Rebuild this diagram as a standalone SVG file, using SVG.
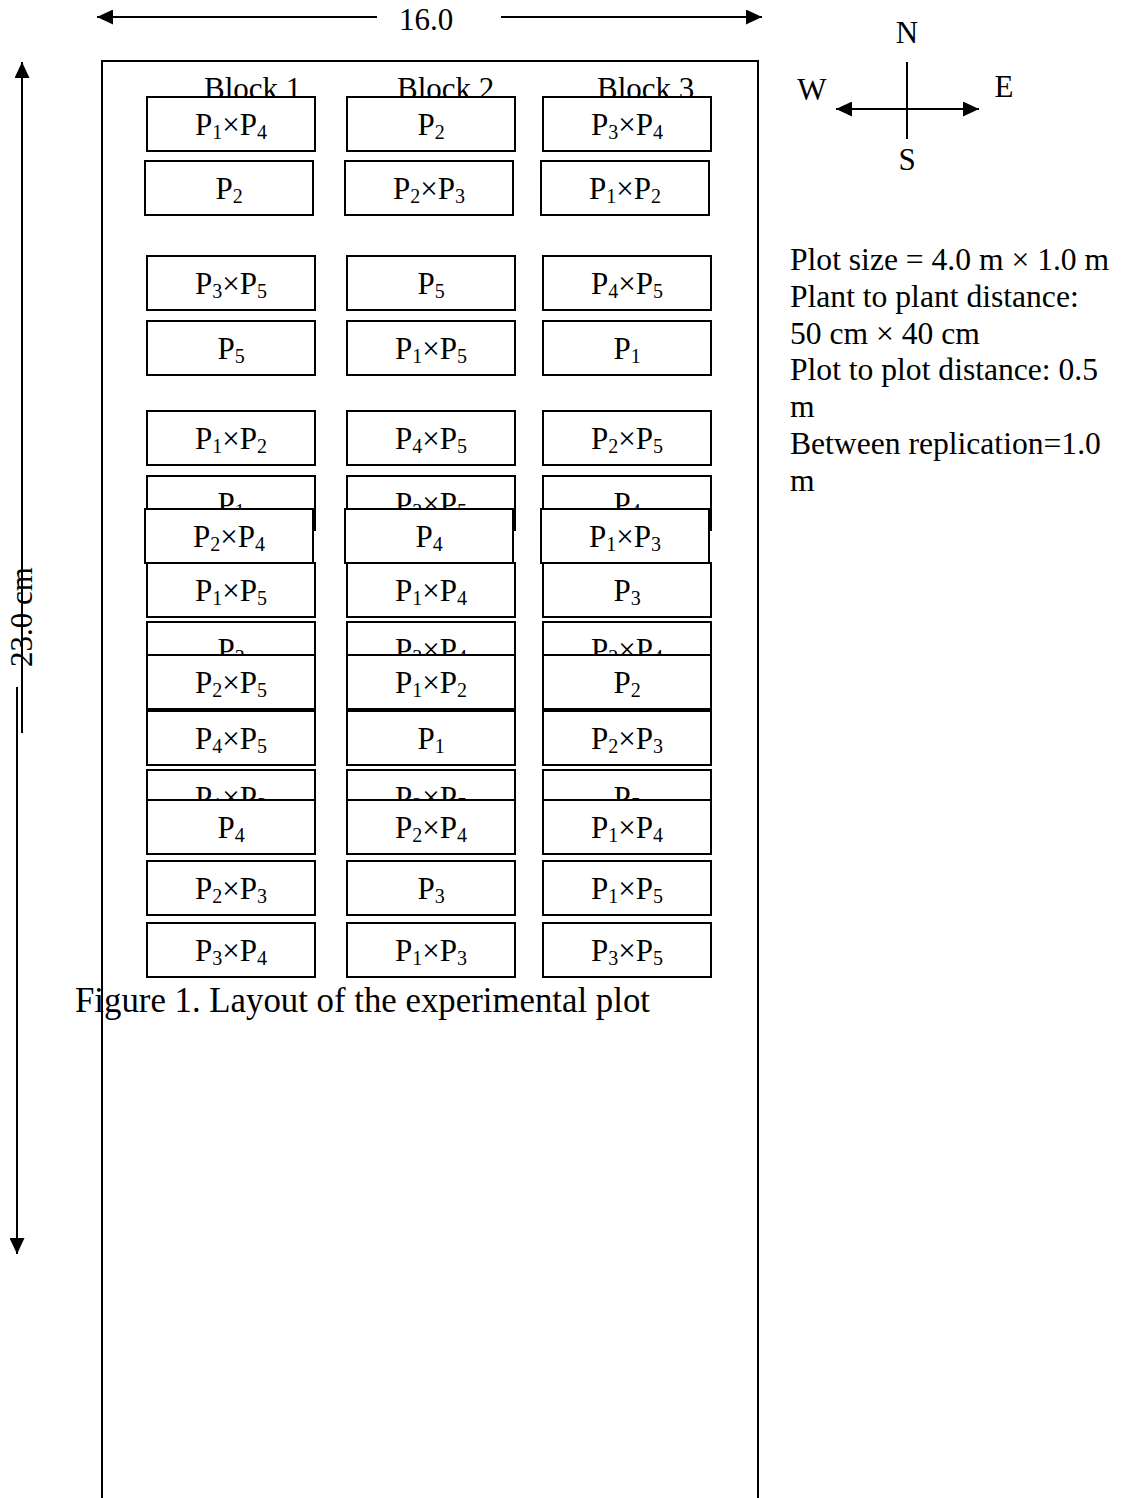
<svg xmlns="http://www.w3.org/2000/svg" width="1123" height="1498" viewBox="0 0 1123 1498">
<style>
text{font-family:"Liberation Serif","Times New Roman",serif;fill:#000}
.t{font-size:31px}
.n{font-size:31.6px}
.lbl{font-size:31px;text-anchor:middle}
.s{font-size:20px}
.box{fill:#fff;stroke:#000;stroke-width:2}
.ln{stroke:#000;stroke-width:2;fill:none}
</style>
<defs>
<marker id="ah" viewBox="0 0 16 15" refX="16" refY="7.5" markerWidth="16" markerHeight="15" markerUnits="userSpaceOnUse" orient="auto">
<path d="M0,0 L16,7.5 L0,15 Z" fill="#000"/>
</marker>
</defs>
<rect width="1123" height="1498" fill="#fff"/>
<g id="frame"><rect x="102" y="61" width="656" height="1460" fill="none" stroke="#000" stroke-width="2"/></g>
<g id="connectors">
<line class="ln" x1="377" y1="17" x2="97" y2="17" marker-end="url(#ah)"/>
<line class="ln" x1="501" y1="17" x2="762" y2="17" marker-end="url(#ah)"/>
<line class="ln" x1="22" y1="733" x2="22" y2="62" marker-end="url(#ah)"/>
<line class="ln" x1="17" y1="687" x2="17" y2="1254" marker-end="url(#ah)"/>
<line class="ln" x1="907" y1="62" x2="907" y2="139"/>
<line class="ln" x1="907" y1="109" x2="836" y2="109" marker-end="url(#ah)"/>
<line class="ln" x1="907" y1="109" x2="979" y2="109" marker-end="url(#ah)"/>
</g>
<g id="dims">
<text class="t" x="426" y="30" text-anchor="middle">16.0</text>
<text class="t" transform="translate(32,667) rotate(-90)">23.0 cm</text>
</g>
<g id="compass">
<text class="t" x="907" y="43" text-anchor="middle">N</text>
<text class="t" x="812" y="100" text-anchor="middle">W</text>
<text class="t" x="1004" y="97" text-anchor="middle">E</text>
<text class="t" x="907" y="170" text-anchor="middle">S</text>
</g>
<g id="blocks">
<text class="t" x="204" y="99">Block 1</text>
<text class="t" x="397" y="99">Block 2</text>
<text class="t" x="597" y="99">Block 3</text>
</g>
<g id="plots">
<g id="r1c1"><rect class="box" x="147" y="97" width="168" height="54"/><text class="lbl" x="231" y="135">P<tspan class="s" dy="4">1</tspan><tspan dy="-4">×P</tspan><tspan class="s" dy="4">4</tspan></text></g>
<g id="r1c2"><rect class="box" x="347" y="97" width="168" height="54"/><text class="lbl" x="431" y="135">P<tspan class="s" dy="4">2</tspan></text></g>
<g id="r1c3"><rect class="box" x="543" y="97" width="168" height="54"/><text class="lbl" x="627" y="135">P<tspan class="s" dy="4">3</tspan><tspan dy="-4">×P</tspan><tspan class="s" dy="4">4</tspan></text></g>

<g id="r2c1"><rect class="box" x="145" y="161" width="168" height="54"/><text class="lbl" x="229" y="199">P<tspan class="s" dy="4">2</tspan></text></g>
<g id="r2c2"><rect class="box" x="345" y="161" width="168" height="54"/><text class="lbl" x="429" y="199">P<tspan class="s" dy="4">2</tspan><tspan dy="-4">×P</tspan><tspan class="s" dy="4">3</tspan></text></g>
<g id="r2c3"><rect class="box" x="541" y="161" width="168" height="54"/><text class="lbl" x="625" y="199">P<tspan class="s" dy="4">1</tspan><tspan dy="-4">×P</tspan><tspan class="s" dy="4">2</tspan></text></g>

<g id="r3c1"><rect class="box" x="147" y="256" width="168" height="54"/><text class="lbl" x="231" y="294">P<tspan class="s" dy="4">3</tspan><tspan dy="-4">×P</tspan><tspan class="s" dy="4">5</tspan></text></g>
<g id="r3c2"><rect class="box" x="347" y="256" width="168" height="54"/><text class="lbl" x="431" y="294">P<tspan class="s" dy="4">5</tspan></text></g>
<g id="r3c3"><rect class="box" x="543" y="256" width="168" height="54"/><text class="lbl" x="627" y="294">P<tspan class="s" dy="4">4</tspan><tspan dy="-4">×P</tspan><tspan class="s" dy="4">5</tspan></text></g>

<g id="r4c1"><rect class="box" x="147" y="321" width="168" height="54"/><text class="lbl" x="231" y="359">P<tspan class="s" dy="4">5</tspan></text></g>
<g id="r4c2"><rect class="box" x="347" y="321" width="168" height="54"/><text class="lbl" x="431" y="359">P<tspan class="s" dy="4">1</tspan><tspan dy="-4">×P</tspan><tspan class="s" dy="4">5</tspan></text></g>
<g id="r4c3"><rect class="box" x="543" y="321" width="168" height="54"/><text class="lbl" x="627" y="359">P<tspan class="s" dy="4">1</tspan></text></g>

<g id="r5c1"><rect class="box" x="147" y="411" width="168" height="54"/><text class="lbl" x="231" y="449">P<tspan class="s" dy="4">1</tspan><tspan dy="-4">×P</tspan><tspan class="s" dy="4">2</tspan></text></g>
<g id="r5c2"><rect class="box" x="347" y="411" width="168" height="54"/><text class="lbl" x="431" y="449">P<tspan class="s" dy="4">4</tspan><tspan dy="-4">×P</tspan><tspan class="s" dy="4">5</tspan></text></g>
<g id="r5c3"><rect class="box" x="543" y="411" width="168" height="54"/><text class="lbl" x="627" y="449">P<tspan class="s" dy="4">2</tspan><tspan dy="-4">×P</tspan><tspan class="s" dy="4">5</tspan></text></g>

<g id="r6c1"><rect class="box" x="147" y="476" width="168" height="54"/><text class="lbl" x="231" y="514">P<tspan class="s" dy="4">1</tspan></text></g>
<g id="r6c2"><rect class="box" x="347" y="476" width="168" height="54"/><text class="lbl" x="431" y="514">P<tspan class="s" dy="4">3</tspan><tspan dy="-4">×P</tspan><tspan class="s" dy="4">5</tspan></text></g>
<g id="r6c3"><rect class="box" x="543" y="476" width="168" height="54"/><text class="lbl" x="627" y="514">P<tspan class="s" dy="4">4</tspan></text></g>

<g id="r7c1"><rect class="box" x="145" y="509" width="168" height="54"/><text class="lbl" x="229" y="547">P<tspan class="s" dy="4">2</tspan><tspan dy="-4">×P</tspan><tspan class="s" dy="4">4</tspan></text></g>
<g id="r7c2"><rect class="box" x="345" y="509" width="168" height="54"/><text class="lbl" x="429" y="547">P<tspan class="s" dy="4">4</tspan></text></g>
<g id="r7c3"><rect class="box" x="541" y="509" width="168" height="54"/><text class="lbl" x="625" y="547">P<tspan class="s" dy="4">1</tspan><tspan dy="-4">×P</tspan><tspan class="s" dy="4">3</tspan></text></g>

<g id="r8c1"><rect class="box" x="147" y="563" width="168" height="54"/><text class="lbl" x="231" y="601">P<tspan class="s" dy="4">1</tspan><tspan dy="-4">×P</tspan><tspan class="s" dy="4">5</tspan></text></g>
<g id="r8c2"><rect class="box" x="347" y="563" width="168" height="54"/><text class="lbl" x="431" y="601">P<tspan class="s" dy="4">1</tspan><tspan dy="-4">×P</tspan><tspan class="s" dy="4">4</tspan></text></g>
<g id="r8c3"><rect class="box" x="543" y="563" width="168" height="54"/><text class="lbl" x="627" y="601">P<tspan class="s" dy="4">3</tspan></text></g>

<g id="r9c1"><rect class="box" x="147" y="622" width="168" height="54"/><text class="lbl" x="231" y="660">P<tspan class="s" dy="4">3</tspan></text></g>
<g id="r9c2"><rect class="box" x="347" y="622" width="168" height="54"/><text class="lbl" x="431" y="660">P<tspan class="s" dy="4">3</tspan><tspan dy="-4">×P</tspan><tspan class="s" dy="4">4</tspan></text></g>
<g id="r9c3"><rect class="box" x="543" y="622" width="168" height="54"/><text class="lbl" x="627" y="660">P<tspan class="s" dy="4">2</tspan><tspan dy="-4">×P</tspan><tspan class="s" dy="4">4</tspan></text></g>

<g id="r10c1"><rect class="box" x="147" y="655" width="168" height="54"/><text class="lbl" x="231" y="693">P<tspan class="s" dy="4">2</tspan><tspan dy="-4">×P</tspan><tspan class="s" dy="4">5</tspan></text></g>
<g id="r10c2"><rect class="box" x="347" y="655" width="168" height="54"/><text class="lbl" x="431" y="693">P<tspan class="s" dy="4">1</tspan><tspan dy="-4">×P</tspan><tspan class="s" dy="4">2</tspan></text></g>
<g id="r10c3"><rect class="box" x="543" y="655" width="168" height="54"/><text class="lbl" x="627" y="693">P<tspan class="s" dy="4">2</tspan></text></g>

<g id="r11c1"><rect class="box" x="147" y="711" width="168" height="54"/><text class="lbl" x="231" y="749">P<tspan class="s" dy="4">4</tspan><tspan dy="-4">×P</tspan><tspan class="s" dy="4">5</tspan></text></g>
<g id="r11c2"><rect class="box" x="347" y="711" width="168" height="54"/><text class="lbl" x="431" y="749">P<tspan class="s" dy="4">1</tspan></text></g>
<g id="r11c3"><rect class="box" x="543" y="711" width="168" height="54"/><text class="lbl" x="627" y="749">P<tspan class="s" dy="4">2</tspan><tspan dy="-4">×P</tspan><tspan class="s" dy="4">3</tspan></text></g>

<g id="r12c1"><rect class="box" x="147" y="770" width="168" height="54"/><text class="lbl" x="231" y="808">P<tspan class="s" dy="4">1</tspan><tspan dy="-4">×P</tspan><tspan class="s" dy="4">3</tspan></text></g>
<g id="r12c2"><rect class="box" x="347" y="770" width="168" height="54"/><text class="lbl" x="431" y="808">P<tspan class="s" dy="4">2</tspan><tspan dy="-4">×P</tspan><tspan class="s" dy="4">5</tspan></text></g>
<g id="r12c3"><rect class="box" x="543" y="770" width="168" height="54"/><text class="lbl" x="627" y="808">P<tspan class="s" dy="4">5</tspan></text></g>

<g id="r13c1"><rect class="box" x="147" y="800" width="168" height="54"/><text class="lbl" x="231" y="838">P<tspan class="s" dy="4">4</tspan></text></g>
<g id="r13c2"><rect class="box" x="347" y="800" width="168" height="54"/><text class="lbl" x="431" y="838">P<tspan class="s" dy="4">2</tspan><tspan dy="-4">×P</tspan><tspan class="s" dy="4">4</tspan></text></g>
<g id="r13c3"><rect class="box" x="543" y="800" width="168" height="54"/><text class="lbl" x="627" y="838">P<tspan class="s" dy="4">1</tspan><tspan dy="-4">×P</tspan><tspan class="s" dy="4">4</tspan></text></g>

<g id="r14c1"><rect class="box" x="147" y="861" width="168" height="54"/><text class="lbl" x="231" y="899">P<tspan class="s" dy="4">2</tspan><tspan dy="-4">×P</tspan><tspan class="s" dy="4">3</tspan></text></g>
<g id="r14c2"><rect class="box" x="347" y="861" width="168" height="54"/><text class="lbl" x="431" y="899">P<tspan class="s" dy="4">3</tspan></text></g>
<g id="r14c3"><rect class="box" x="543" y="861" width="168" height="54"/><text class="lbl" x="627" y="899">P<tspan class="s" dy="4">1</tspan><tspan dy="-4">×P</tspan><tspan class="s" dy="4">5</tspan></text></g>

<g id="r15c1"><rect class="box" x="147" y="923" width="168" height="54"/><text class="lbl" x="231" y="961">P<tspan class="s" dy="4">3</tspan><tspan dy="-4">×P</tspan><tspan class="s" dy="4">4</tspan></text></g>
<g id="r15c2"><rect class="box" x="347" y="923" width="168" height="54"/><text class="lbl" x="431" y="961">P<tspan class="s" dy="4">1</tspan><tspan dy="-4">×P</tspan><tspan class="s" dy="4">3</tspan></text></g>
<g id="r15c3"><rect class="box" x="543" y="923" width="168" height="54"/><text class="lbl" x="627" y="961">P<tspan class="s" dy="4">3</tspan><tspan dy="-4">×P</tspan><tspan class="s" dy="4">5</tspan></text></g>
</g>
<g id="caption"><text x="75" y="1012" style="font-size:34.8px">Figure 1. Layout of the experimental plot</text></g>
<g id="notes">
<text class="n" x="790" y="270">Plot size = 4.0 m × 1.0 m</text>
<text class="n" x="790" y="307">Plant to plant distance:</text>
<text class="n" x="790" y="344">50 cm × 40 cm</text>
<text class="n" x="790" y="380">Plot to plot distance: 0.5</text>
<text class="n" x="790" y="417">m</text>
<text class="n" x="790" y="454">Between replication=1.0</text>
<text class="n" x="790" y="491">m</text>
</g>
</svg>
